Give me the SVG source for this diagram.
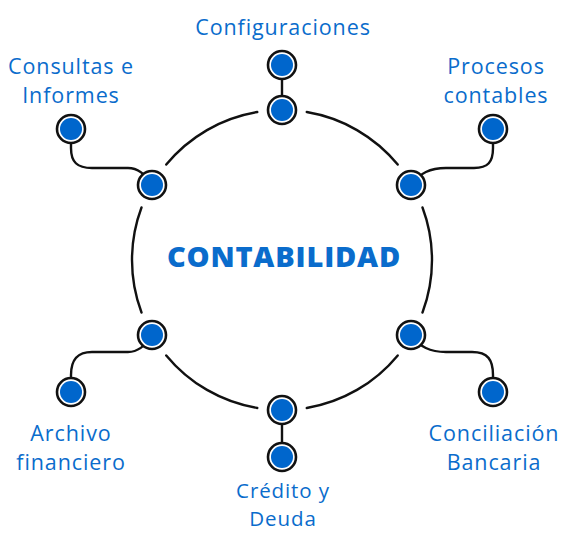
<svg xmlns="http://www.w3.org/2000/svg" width="564" height="533" viewBox="0 0 564 533">
<style>
.lbl{font-family:"Open Sans","Liberation Sans",sans-serif;font-size:21.5px;letter-spacing:0.9px;fill:#0a6ccc;text-anchor:middle}
.sm{font-size:20.5px}
.title{font-family:"Open Sans","Liberation Sans",sans-serif;font-size:29px;font-weight:800;letter-spacing:0.8px;fill:#0a6ccc;text-anchor:middle}
.ln{fill:none;stroke:#111;stroke-width:2.4;stroke-linecap:round}
.ring{fill:#fff;stroke:#111;stroke-width:2.6}
.dot{fill:#0066cc}
</style>
<defs>
<g id="node"><circle class="ring" r="14"/><circle class="dot" r="11"/></g>
</defs>
<rect width="564" height="533" fill="#fff"/>
<g id="connectors">
<path class="ln" d="M306.75,112.05 A150,150 0 0 1 397.74,164.58"/>
<path class="ln" d="M422.5,207.47 A150,150 0 0 1 422.5,312.53"/>
<path class="ln" d="M397.74,355.42 A150,150 0 0 1 306.75,407.95"/>
<path class="ln" d="M257.25,407.95 A150,150 0 0 1 166.26,355.42"/>
<path class="ln" d="M141.5,312.53 A150,150 0 0 1 141.5,207.47"/>
<path class="ln" d="M166.26,164.58 A150,150 0 0 1 257.25,112.05"/>
<path class="ln" d="M282,65 L282,110"/>
<path class="ln" d="M282,410 L282,457"/>
<path class="ln" d="M411,185 C420,173 430,168 446,168 L474,168 C488,168 493,162 493,148 L493,129"/>
<path class="ln" d="M411,335 C420,347 430,352 446,352 L472,352 C488,352 493,360 493,375 L493,392"/>
<path class="ln" d="M71,129 L71,148 C71,162 77,168 92,168 L128,168 C138,168 146,175 152,185"/>
<path class="ln" d="M152,335 C146,345 138,352 128,352 L92,352 C77,352 71,360 71,375 L71,392"/>
</g>
<g id="n-config"><use href="#node" x="282" y="65"/><use href="#node" x="282" y="110"/><text class="lbl" x="283" y="35">Configuraciones</text></g>
<g id="n-procesos"><use href="#node" x="493" y="129"/><use href="#node" x="411" y="185"/><text class="lbl" x="496" y="74">Procesos</text><text class="lbl" x="496" y="103">contables</text></g>
<g id="n-conciliacion"><use href="#node" x="493" y="392"/><use href="#node" x="411" y="335"/><text class="lbl" x="494" y="441">Conciliación</text><text class="lbl" x="494" y="470">Bancaria</text></g>
<g id="n-credito"><use href="#node" x="282" y="457"/><use href="#node" x="282" y="410"/><text class="lbl sm" x="283" y="498">Crédito y</text><text class="lbl sm" x="283" y="526">Deuda</text></g>
<g id="n-archivo"><use href="#node" x="71" y="392"/><use href="#node" x="152" y="335"/><text class="lbl" x="71" y="441">Archivo</text><text class="lbl" x="71" y="470">financiero</text></g>
<g id="n-consultas"><use href="#node" x="71" y="129"/><use href="#node" x="152" y="185"/><text class="lbl" x="71" y="74">Consultas e</text><text class="lbl" x="71" y="103">Informes</text></g>
<g id="center"><text class="title" x="284" y="267">CONTABILIDAD</text></g>
</svg>
